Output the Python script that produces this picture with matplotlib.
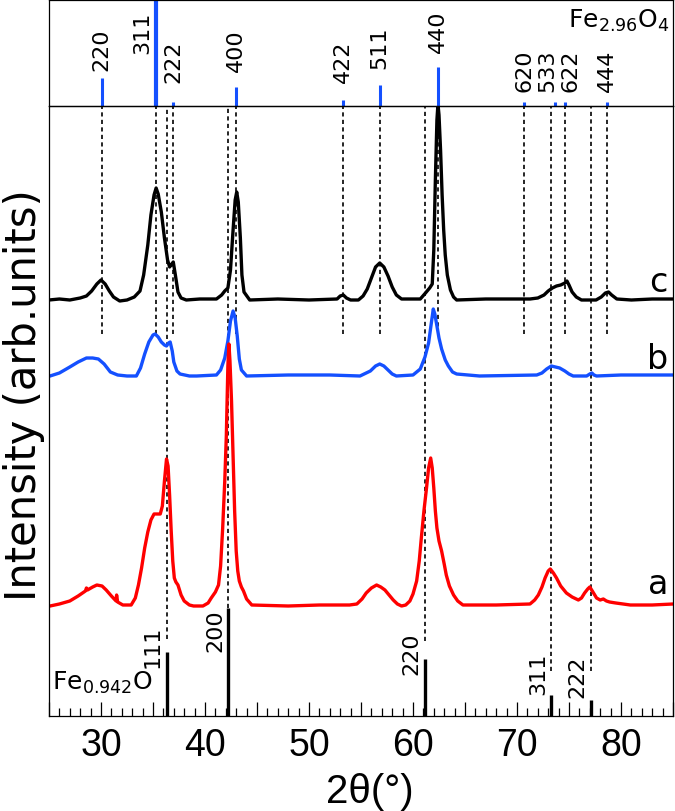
import numpy as np
import matplotlib
matplotlib.use("Agg")
import matplotlib.pyplot as plt
from matplotlib.ticker import MultipleLocator, FuncFormatter

plt.rcParams['font.family'] = ['DejaVu Sans']
plt.rcParams['mathtext.default'] = 'regular'

# Fe2.96O4 reference peaks (top panel)
mag_tt = [30.05, 35.3, 36.96, 42.96, 53.26, 56.78, 62.37, 70.72, 73.7, 74.66, 78.67]
mag_int = [26, 100, 4, 18, 6, 20, 37, 4, 4, 4, 4]
mag_hkl = ['220', '311', '222', '400', '422', '511', '440', '620', '533', '622', '444']
mag_lab_x = [30.05, 34.0, 36.96, 42.96, 53.26, 56.78, 62.37, 70.72, 72.9, 75.15, 78.67]
mag_lab_y = [34, 50, 23, 33, 23, 36, 51, 14, 14, 14, 14]
mag_guide = [30.05, 35.3, 36.96, 42.96, 53.26, 56.78, 62.37, 70.72, 74.66, 78.67]

# Fe0.942O reference peaks (bottom)
wus_tt = [36.34, 42.17, 61.2, 73.29, 77.14]
wus_int = [64, 108, 57, 21, 16]
wus_hkl = ['111', '200', '220', '311', '222']
wus_lab_x = [35.0, 41.0, 59.85, 72.05, 75.8]
wus_lab_y = [49, 65, 42, 22, 19]
wus_guide_end = [77, 108, 75, 45, 45]

# measured patterns: 2theta and intensity above each curve's own baseline
c_tt = [25.0, 26.0, 27.0, 28.0, 28.6, 29.1, 29.6, 30.0, 30.4, 30.8, 31.2, 31.8, 32.5,
        33.2, 33.75, 34.1, 34.5, 34.8, 35.1, 35.3, 35.5, 35.8, 36.1, 36.4, 36.6, 36.8,
        36.95, 37.15, 37.4, 37.7, 38.2, 39.5, 41.1, 41.6, 41.9, 42.2, 42.45, 42.7, 42.9,
        43.05, 43.2, 43.4, 43.55, 43.75, 44.3, 47.0, 50.0, 52.7, 53.0, 53.3, 53.6, 54.0,
        54.75, 55.2, 55.6, 56.0, 56.4, 56.8, 57.2, 57.6, 58.0, 58.4, 58.9, 60.7, 61.2,
        61.6, 61.85, 62.0, 62.15, 62.3, 62.4, 62.5, 62.65, 62.8, 62.95, 63.1, 63.3, 63.6,
        63.9, 64.2, 67.0, 71.25, 72.0, 72.6, 73.0, 73.4, 73.8, 74.2, 74.6, 74.8, 75.0,
        75.3, 75.7, 76.2, 77.6, 78.1, 78.5, 78.8, 79.1, 79.6, 81.0, 83.0, 85.0]
c_int = [0, 1, 0, 2, 4, 9, 16, 20, 16, 9, 3, -1, 0,
         3, 9, 25, 55, 85, 105, 112, 106, 88, 62, 40, 33, 36,
         38, 25, 8, 2, 0, 1, 1, 5, 9, 12, 30, 70, 100,
         108, 98, 62, 25, 8, 0, 1, 0, 1, 4, 5, 2, 0,
         0, 4, 11, 22, 33, 37, 33, 24, 13, 5, 1, 1, 7,
         12, 16, 50, 120, 180, 196, 185, 150, 105, 70, 45, 25, 10,
         3, 0, 1, 1, 2, 5, 9, 12, 14, 15, 17, 19, 15,
         8, 3, 0, 0, 3, 7, 8, 5, 1, 0, 1, 1]

b_tt = [25.1, 26.0, 27.0, 27.8, 28.6, 29.2, 29.75, 30.3, 30.9, 31.6, 32.5, 33.4, 33.8,
        34.2, 34.6, 35.0, 35.2, 35.5, 35.8, 36.1, 36.3, 36.5, 36.65, 36.85, 37.0, 37.3,
        37.6, 38.5, 39.2, 41.1, 41.5, 41.9, 42.2, 42.45, 42.7, 42.9, 43.1, 43.3, 43.5,
        44.0, 48.0, 52.0, 54.9, 55.5, 55.9, 56.4, 56.8, 57.2, 57.6, 58.0, 58.4, 60.0,
        60.7, 61.15, 61.5, 61.75, 61.95, 62.1, 62.3, 62.5, 62.75, 63.1, 63.4, 63.8, 64.2,
        66.4, 71.9, 72.4, 72.85, 73.3, 73.7, 74.1, 74.6, 75.0, 75.4, 76.7, 77.0, 77.2,
        77.4, 77.65, 80.0, 85.0]
b_int = [0, 3, 9, 14, 18, 18, 17, 12, 4, 1, 0, 0, 8,
         22, 34, 41, 42, 39, 34, 31, 30, 33, 34, 25, 14, 5,
         2, 0, 0, 1, 6, 18, 35, 55, 65, 58, 40, 17, 6,
         0, 1, 1, 0, 3, 5, 10, 12, 10, 6, 2, 0, 1,
         7, 19, 33, 52, 67, 62, 50, 38, 27, 16, 10, 4, 2,
         0, 1, 3, 7, 10, 9, 8, 5, 2, 0, 0, 2, 3,
         1, 0, 1, 1]

a_tt = [25.1, 26.0, 27.0, 27.8, 28.5, 28.6, 28.7, 29.2, 29.6, 30.1, 30.5, 31.0, 31.45,
        31.5, 31.6, 32.1, 32.9, 33.3, 33.6, 33.9, 34.2, 34.5, 34.8, 35.1, 35.7, 35.9,
        36.1, 36.3, 36.45, 36.6, 36.75, 36.9, 37.05, 37.2, 37.4, 37.7, 38.0, 38.5, 38.9,
        39.8, 40.3, 40.6, 41.0, 41.3, 41.5, 41.7, 41.9, 42.05, 42.2, 42.3, 42.4, 42.55,
        42.7, 42.85, 43.0, 43.15, 43.3, 43.5, 43.7, 44.0, 44.5, 48.0, 51.0, 53.9, 54.6,
        55.1, 55.5, 56.0, 56.5, 56.9, 57.3, 57.7, 58.1, 58.5, 58.9, 59.3, 59.7, 60.0,
        60.35, 60.6, 60.8, 61.05, 61.3, 61.5, 61.7, 61.85, 62.0, 62.15, 62.3, 62.5, 62.75,
        63.0, 63.2, 63.5, 63.9, 64.3, 64.8, 68.0, 71.25, 71.7, 72.05, 72.4, 72.7, 73.0,
        73.2, 73.5, 73.8, 74.2, 74.75, 75.3, 75.9, 76.2, 76.5, 76.8, 77.0, 77.3, 77.65,
        78.0, 78.3, 78.6, 78.9, 79.5, 80.9, 83.0, 85.0]
a_int = [0, 2, 5, 10, 15, 18, 16, 19, 21, 20, 16, 10, 5,
         11, 4, 1, 1, 8, 21, 38, 58, 74, 86, 92, 92, 100,
         125, 147, 140, 110, 75, 45, 28, 24, 21, 11, 5, 1, 0,
         0, 3, 8, 14, 21, 40, 78, 125, 170, 240, 262, 245, 205,
         150, 95, 55, 35, 25, 19, 15, 7, 1, 0, 1, 1, 2,
         7, 13, 18, 21, 19, 16, 11, 6, 2, 0, 1, 5, 12,
         25, 45, 68, 95, 118, 138, 148, 138, 118, 95, 78, 65, 55,
         42, 31, 20, 11, 5, 1, 1, 2, 6, 11, 19, 28, 35,
         37, 33, 28, 20, 13, 9, 6, 8, 13, 17, 19, 14, 8,
         6, 7, 5, 4, 3, 1, 1, 2]

offsets = {'a': 110, 'b': 340, 'c': 416}
blue = '#1450ff'

fig = plt.figure(figsize=(6.75, 8.12), dpi=100)
ax_top = fig.add_axes([49/675, 1-107/812, 624/675, 106/812])
ax = fig.add_axes([49/675, 1-717/812, 624/675, 610/812])

# top panel: Fe2.96O4 stick pattern
ax_top.set_xlim(25, 85)
ax_top.set_ylim(0, 100)
for x, h in zip(mag_tt, mag_int):
    ax_top.vlines(x, 0, h, color=blue, lw=3.0 if h == 100 else 2.2)
for x, y, s in zip(mag_lab_x, mag_lab_y, mag_hkl):
    ax_top.text(x, y, s, rotation=90, ha='center', va='bottom', fontsize=16)
ax_top.text(0.995, 0.94, 'Fe$_{2.96}$O$_4$', transform=ax_top.transAxes,
            ha='right', va='top', fontsize=18)
ax_top.set_xticks([])
ax_top.set_yticks([])
for sp in ax_top.spines.values():
    sp.set_linewidth(0.9)

# main panel
ax.set_xlim(25, 85)
ax.set_ylim(0, 610)
ax.patch.set_alpha(0)
ax.vlines(mag_guide, 382, 610, color='k', lw=1.2, linestyles=(0, (2.5, 2)))
ax.vlines(wus_tt, wus_guide_end, 610, color='k', lw=1.2, linestyles=(0, (2.5, 2)))

ax.plot(c_tt, np.array(c_int) + offsets['c'], color='k', lw=2.4)
ax.plot(b_tt, np.array(b_int) + offsets['b'], color=blue, lw=2.4)
ax.plot(a_tt, np.array(a_int) + offsets['a'], color='#ff0000', lw=2.4)

ax.text(83.55, 434, 'c', fontsize=24, ha='center', va='center')
ax.text(83.55, 357, 'b', fontsize=24, ha='center', va='center')
ax.text(83.55, 132, 'a', fontsize=24, ha='center', va='center')

# bottom: Fe0.942O stick pattern
ax.vlines(wus_tt, 0, wus_int, color='k', lw=2.4)
for x, y, s in zip(wus_lab_x, wus_lab_y, wus_hkl):
    ax.text(x, y, s, rotation=90, ha='center', va='bottom', fontsize=16)
ax.text(25.3, 27, 'Fe$_{0.942}$O', fontsize=18, va='baseline', ha='left')

for sp in ['left', 'right', 'bottom', 'top']:
    ax.spines[sp].set_linewidth(0.9)
ax.set_yticks([])
ax.xaxis.set_major_locator(MultipleLocator(5))
ax.xaxis.set_minor_locator(MultipleLocator(1))
ax.xaxis.set_major_formatter(FuncFormatter(lambda v, p: '%d' % v if v % 10 == 0 else ''))
ax.tick_params(axis='x', which='major', direction='in', length=10, width=0.9, pad=8,
               labelsize=27, labelfontfamily='Liberation Sans')
ax.tick_params(axis='x', which='minor', direction='in', length=5.5, width=0.9)

fig.text(370/675, 1-792/812, '2θ(°)', fontsize=29, family='Liberation Sans',
         ha='center', va='center')
fig.text(24/675, 1-395/812, 'Intensity (arb.units)', fontsize=30, family='DejaVu Sans',
         ha='center', va='center', rotation=90)

fig.savefig('out.png', dpi=100)
